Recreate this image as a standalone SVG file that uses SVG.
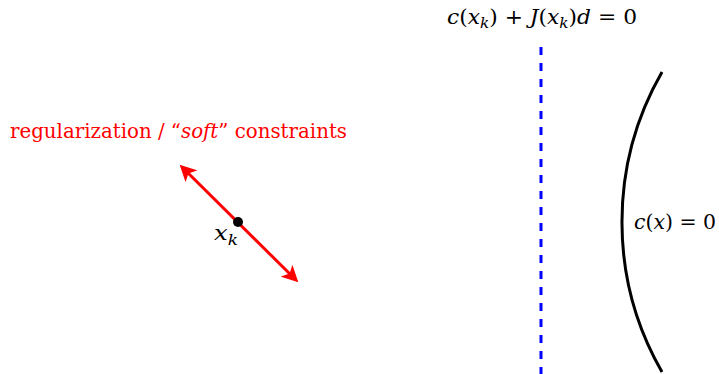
<svg xmlns="http://www.w3.org/2000/svg" width="719" height="374" viewBox="0 0 719 374">
<style>
text{font-family:'DejaVu Serif','Liberation Serif',serif;font-size:20px;fill:#000}
.it{font-style:italic}
.red{fill:#ff0000}
.sub{font-size:14px;font-style:italic}
</style>
<defs>
<marker id="ah" viewBox="0 0 10 10" refX="8" refY="5" markerWidth="5.5" markerHeight="5.5" orient="auto-start-reverse" markerUnits="strokeWidth">
<path d="M0,0 L10,5 L0,10 L2.5,5 Z" fill="#ff0000"/>
</marker>
</defs>
<rect width="719" height="374" fill="#fff"/>
<g id="connectors">
<line x1="541" y1="47" x2="541" y2="374" stroke="#0000ff" stroke-width="3" stroke-dasharray="8,8"/>
<path d="M662,72 A301,301 0 0,0 662,372" fill="none" stroke="#000" stroke-width="3"/>
<line x1="182" y1="167" x2="296" y2="280" stroke="#ff0000" stroke-width="3" marker-start="url(#ah)" marker-end="url(#ah)"/>
</g>
<g id="xk">
<circle cx="238" cy="222" r="5" fill="#000"/>
<text x="214" y="240" class="it" font-size="22" textLength="24" lengthAdjust="spacingAndGlyphs">x<tspan class="sub" dy="5" font-size="15">k</tspan></text>
</g>
<g id="label-soft">
<text x="10" y="138" class="red" textLength="337" lengthAdjust="spacingAndGlyphs">regularization / “<tspan class="it">soft</tspan>” constraints</text>
</g>
<g id="label-linear">
<text x="447" y="24" textLength="190" lengthAdjust="spacingAndGlyphs"><tspan class="it">c</tspan>(<tspan class="it">x</tspan><tspan class="sub" dy="4">k</tspan><tspan dy="-4">) + </tspan><tspan class="it">J</tspan>(<tspan class="it">x</tspan><tspan class="sub" dy="4">k</tspan><tspan dy="-4">)</tspan><tspan class="it">d</tspan> = 0</text>
</g>
<g id="label-c">
<text x="634" y="229" textLength="82" lengthAdjust="spacingAndGlyphs"><tspan class="it">c</tspan>(<tspan class="it">x</tspan>) = 0</text>
</g>
</svg>
